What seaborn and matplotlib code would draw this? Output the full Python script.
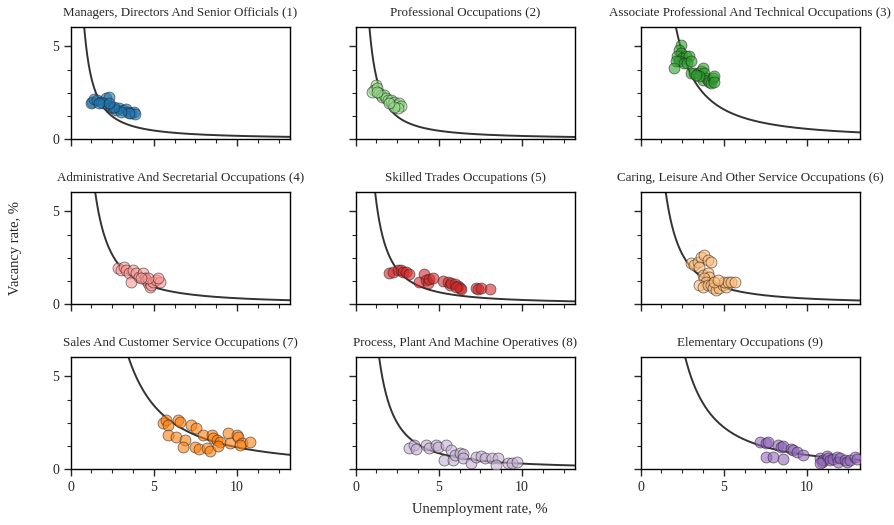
import numpy as np
import pandas as pd
import matplotlib
matplotlib.use("Agg")
import matplotlib.pyplot as plt
from matplotlib.ticker import MultipleLocator
import seaborn as sns

titles = [
    "Managers, Directors And Senior Officials (1)",
    "Professional Occupations (2)",
    "Associate Professional And Technical Occupations (3)",
    "Administrative And Secretarial Occupations (4)",
    "Skilled Trades Occupations (5)",
    "Caring, Leisure And Other Service Occupations (6)",
    "Sales And Customer Service Occupations (7)",
    "Process, Plant And Machine Operatives (8)",
    "Elementary Occupations (9)",
]
colors = ["#1f77b4", "#98df8a", "#2ca02c", "#ff9896", "#d62728",
          "#ffbb78", "#ff7f0e", "#c5b0d5", "#9467bd"]

# unemployment (u) and vacancy (v) rates per occupation group
u1 = [1.31, 1.21, 1.41, 1.61, 1.81, 2.12, 2.28, 1.92, 2.22, 2.42, 2.52, 2.72, 2.92, 3.13, 3.33, 3.43, 3.63, 3.83, 3.89, 3.53, 3.02, 2.62, 2.32, 1.71]
v1 = [2.02, 1.93, 2.15, 2.11, 2.02, 2.20, 2.29, 1.93, 1.84, 1.75, 1.66, 1.57, 1.66, 1.57, 1.61, 1.48, 1.43, 1.48, 1.35, 1.39, 1.48, 1.71, 1.93, 1.97]
u2 = [1.21, 1.11, 1.01, 1.31, 1.41, 1.51, 1.61, 1.71, 1.81, 1.92, 2.12, 2.22, 2.32, 2.42, 2.52, 2.62, 2.72, 2.52, 2.32, 2.02, 1.31]
v2 = [2.92, 2.65, 2.56, 2.74, 2.47, 2.38, 2.29, 2.38, 2.20, 2.11, 2.11, 1.93, 2.02, 1.84, 1.84, 1.93, 1.79, 1.66, 1.71, 1.93, 2.56]
u3 = [2.42, 2.32, 2.42, 2.22, 2.52, 2.72, 2.92, 2.32, 2.12, 2.02, 2.62, 2.82, 3.02, 3.02, 3.23, 3.43, 3.63, 3.73, 3.83, 3.93, 3.73, 4.03, 4.13, 4.23, 4.33, 4.44, 4.44, 3.53, 3.33]
v3 = [5.09, 4.82, 4.64, 4.46, 4.37, 4.46, 4.46, 4.19, 4.19, 3.83, 4.10, 4.10, 4.19, 3.56, 3.56, 3.56, 3.65, 3.83, 3.56, 3.29, 3.19, 3.19, 3.10, 3.01, 3.29, 3.38, 3.10, 3.38, 3.47]
u4 = [2.82, 3.02, 3.23, 3.33, 3.53, 3.63, 3.73, 3.93, 4.13, 4.33, 4.44, 4.54, 4.64, 4.74, 4.84, 4.94, 5.14, 5.34, 5.24, 4.64, 4.23]
v4 = [1.93, 1.84, 2.02, 1.84, 1.66, 1.21, 1.84, 1.66, 1.48, 1.66, 1.39, 1.30, 1.12, 0.94, 1.03, 1.21, 1.30, 1.21, 1.39, 1.39, 1.39]
u5 = [2.02, 2.22, 2.52, 2.72, 2.82, 3.02, 3.23, 3.83, 4.13, 4.23, 4.33, 4.44, 4.64, 5.24, 5.54, 5.65, 5.75, 5.95, 6.15, 6.25, 6.35, 6.05, 7.26, 7.36, 7.56, 8.06]
v5 = [1.66, 1.71, 1.84, 1.84, 1.75, 1.71, 1.61, 1.17, 1.61, 1.30, 1.12, 1.35, 1.43, 1.25, 1.17, 1.03, 1.12, 1.06, 0.99, 0.88, 0.81, 0.94, 0.88, 0.81, 0.85, 0.81]
u6 = [3.02, 3.23, 3.43, 3.63, 3.83, 4.03, 4.23, 3.53, 3.73, 4.03, 4.13, 3.83, 3.93, 3.53, 3.73, 4.03, 4.23, 4.33, 4.54, 4.74, 4.94, 5.14, 5.04, 5.24, 5.44, 5.65, 4.44, 4.64]
v6 = [2.20, 2.11, 2.29, 2.56, 2.65, 2.38, 2.29, 2.02, 1.57, 1.66, 1.48, 1.39, 1.21, 1.03, 0.94, 1.03, 1.03, 0.85, 0.76, 0.85, 1.03, 0.94, 1.21, 1.21, 1.21, 1.17, 1.21, 1.30]
u7 = [5.54, 5.71, 5.85, 6.45, 6.55, 5.85, 6.31, 6.85, 6.75, 7.26, 7.56, 7.46, 7.72, 7.96, 8.17, 8.37, 8.47, 8.57, 8.77, 8.97, 8.87, 9.48, 9.58, 9.98, 10.08, 10.28, 10.18, 10.79]
v7 = [2.47, 2.62, 2.38, 2.65, 2.56, 1.84, 1.71, 1.57, 1.21, 2.38, 2.20, 1.21, 1.06, 1.84, 1.12, 0.99, 1.84, 1.66, 1.57, 1.48, 1.25, 1.93, 1.39, 1.84, 1.71, 1.39, 1.30, 1.48]
u8 = [3.23, 3.53, 3.63, 4.23, 4.44, 4.84, 4.94, 5.44, 5.75, 5.34, 5.85, 5.95, 6.25, 6.45, 6.45, 6.96, 7.26, 7.56, 7.76, 8.17, 8.57, 8.47, 9.17, 9.38, 9.68]
v8 = [1.12, 1.30, 1.06, 1.30, 1.12, 1.30, 1.17, 1.30, 1.03, 0.49, 0.49, 0.76, 0.88, 0.81, 0.58, 0.31, 0.67, 0.70, 0.58, 0.58, 0.58, 0.22, 0.34, 0.31, 0.40]
u9 = [7.16, 7.56, 7.66, 8.27, 8.47, 8.57, 9.07, 9.17, 9.38, 9.78, 7.56, 7.96, 8.57, 10.79, 10.89, 10.99, 11.19, 11.29, 11.39, 11.59, 11.79, 11.90, 12.00, 12.30, 12.40, 12.60, 12.90, 13.00, 10.79]
v9 = [1.48, 1.39, 1.48, 1.30, 1.21, 1.25, 1.06, 1.03, 0.94, 0.76, 0.67, 0.63, 0.52, 0.58, 0.40, 0.49, 0.70, 0.58, 0.49, 0.52, 0.67, 0.40, 0.58, 0.49, 0.40, 0.49, 0.63, 0.52, 0.31]

# fitted Beveridge curves v = a * u**(-b)
curve_a = [4.49, 4.6, 19.4, 11.0, 7.72, 11.7, 41.6, 10.3, 28.7]
curve_b = [1.42, 1.45, 1.55, 1.55, 1.55, 1.60, 1.55, 1.55, 1.58]

us = [u1, u2, u3, u4, u5, u6, u7, u8, u9]
vs = [v1, v2, v3, v4, v5, v6, v7, v8, v9]

sns.set_style("ticks")
plt.rcParams['font.family'] = ['Liberation Serif', 'DejaVu Serif']
plt.rcParams['font.size'] = 9.4

fig, axes = plt.subplots(3, 3, figsize=(8.95, 5.25), dpi=100, sharex=True, sharey=True)
fig.subplots_adjust(left=0.079, right=0.961, top=0.9486, bottom=0.1067, wspace=0.298, hspace=0.473)

ugrid = np.linspace(0.3, 13.2, 500)
for i, ax in enumerate(axes.flat):
    df = pd.DataFrame({"u": us[i], "v": vs[i]})
    sns.scatterplot(data=df, x="u", y="v", ax=ax, color=colors[i], s=62,
                    alpha=0.6, edgecolor="#222222", linewidth=0.6, zorder=3)
    curve = pd.DataFrame({"u": ugrid, "v": curve_a[i] * ugrid ** (-curve_b[i])})
    sns.lineplot(data=curve, x="u", y="v", ax=ax, color="#333333", linewidth=1.4, zorder=2)
    ax.set_title(titles[i], fontsize=9.4, pad=8)
    ax.set_xlabel("")
    ax.set_ylabel("")
    ax.set_xlim(0, 13.2)
    ax.set_ylim(0, 6.05)
    ax.xaxis.set_major_locator(MultipleLocator(5))
    ax.xaxis.set_minor_locator(MultipleLocator(1.25))
    ax.yaxis.set_major_locator(MultipleLocator(5))
    ax.yaxis.set_minor_locator(MultipleLocator(1.25))
    ax.tick_params(which="major", direction="out", length=5, width=1, labelsize=10)
    ax.tick_params(which="minor", direction="out", length=3, width=0.8)
    for sp in ax.spines.values():
        sp.set_linewidth(1.0)
        sp.set_color("black")

fig.text(0.536, 0.029, "Unemployment rate, %", ha="center", va="center", fontsize=10.5)
fig.text(0.017, 0.528, "Vacancy rate, %", ha="center", va="center", rotation=90, fontsize=10.5)

fig.savefig("out.png", dpi=100)
